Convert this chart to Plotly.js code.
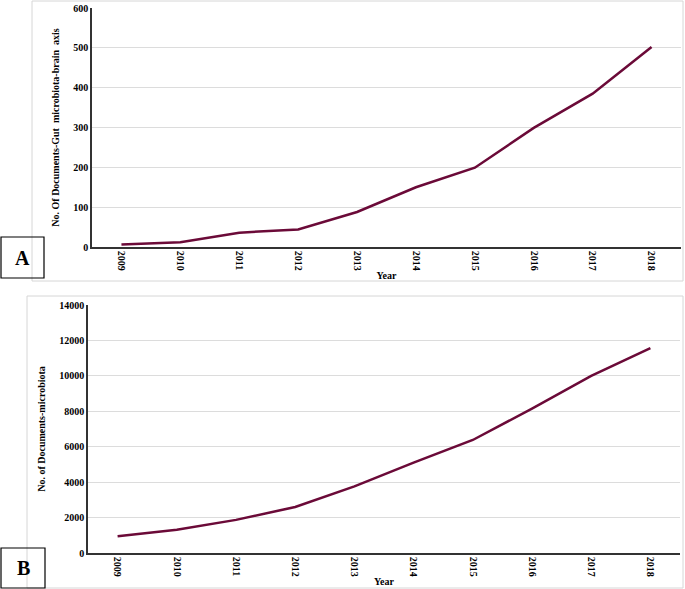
<!DOCTYPE html>
<html>
<head>
<meta charset="utf-8">
<script src="https://cdn.plot.ly/plotly-3.0.1.min.js"></script>
<style>
  html, body { margin: 0; padding: 0; background: #fff; }
  #chart { width: 685px; height: 589px; }
</style>
</head>
<body>
<div id="chart"></div>
<script>
// years on both panels
let years = ['2009','2010','2011','2012','2013','2014','2015','2016','2017','2018'];
// panel A: documents on gut microbiota-brain axis
let docs_gut_brain = [6, 12, 36, 44, 88, 150, 199, 299, 385, 502];
// panel B: documents on microbiota
let docs_microbiota = [940, 1310, 1870, 2600, 3760, 5100, 6380, 8150, 10000, 11560];

let line_color = '#6b0a38';
let serif = 'Liberation Serif, Times New Roman, serif';
let grid_color = '#dcdcdc';

let traces = [{
  type: 'scatter',
  mode: 'lines',
  x: years,
  y: docs_gut_brain,
  xaxis: 'x', yaxis: 'y',
  line: {color: line_color, width: 2.5},
  showlegend: false
},{
  type: 'scatter',
  mode: 'lines',
  x: years,
  y: docs_microbiota,
  xaxis: 'x2', yaxis: 'y2',
  line: {color: line_color, width: 2.5},
  showlegend: false
}];

let tick_font = {family: serif, size: 10, color: '#000', weight: 'bold'};
let title_font = {family: serif, size: 10, color: '#000', weight: 'bold'};

function x_axis(domain, anchor){
  return {
    domain: domain, anchor: anchor,
    type: 'category',
    range: [-0.5, 9.5],
    showgrid: false, zeroline: false,
    showline: true, linecolor: '#333', linewidth: 1.5,
    ticks: '', tickangle: 90,
    tickfont: tick_font,
    title: {text: 'Year', font: title_font, standoff: 2}
  };
}
function y_axis(domain, anchor, range, dtick, title){
  return {
    domain: domain, anchor: anchor,
    range: range, dtick: dtick, tickformat: 'd',
    showgrid: true, gridcolor: grid_color, gridwidth: 1,
    zeroline: false,
    showline: true, linecolor: '#333', linewidth: 1.5,
    ticks: '', ticklen: 0,
    tickfont: tick_font,
    title: {text: title, font: title_font, standoff: 12}
  };
}

let box = (x0, y0, x1, y1, color, w) => ({
  type: 'rect', xref: 'paper', yref: 'paper', layer: 'below',
  x0: x0 / 685, x1: x1 / 685, y0: 1 - y1 / 589, y1: 1 - y0 / 589,
  line: {color: color, width: w}, fillcolor: 'rgba(0,0,0,0)'
});

let label = (txt, cx, cy) => ({
  text: txt, xref: 'paper', yref: 'paper', x: cx / 685, y: 1 - cy / 589,
  xanchor: 'center', yanchor: 'middle', showarrow: false,
  font: {family: serif, size: 20, color: '#000', weight: 'bold'}
});

let layout = {
  width: 685, height: 589,
  margin: {l: 0, r: 0, t: 0, b: 0},
  paper_bgcolor: '#fff', plot_bgcolor: 'rgba(0,0,0,0)',
  font: {family: serif, color: '#000'},
  xaxis: x_axis([92/685, 681/685], 'y'),
  yaxis: y_axis([1 - 247/589, 1 - 8/589], 'x', [0, 600], 100,
                'No. Of Documents-Gut  microbiota-brain  axis'),
  xaxis2: x_axis([88/685, 680/685], 'y2'),
  yaxis2: y_axis([1 - 553/589, 1 - 305/589], 'x2', [0, 14000], 2000,
                 'No. of Documents-microbiota'),
  shapes: [
    box(32, 1, 683, 281, '#d6d6d6', 1),
    box(27, 296, 683, 588, '#d6d6d6', 1),
    box(1, 237, 44, 278, '#000', 1.2),
    box(1, 548, 45, 588, '#000', 1.2)
  ],
  annotations: [
    label('A', 22.5, 257.5),
    label('B', 23, 568)
  ]
};

Plotly.newPlot('chart', traces, layout, {displayModeBar: false, responsive: false});
</script>
</body>
</html>
